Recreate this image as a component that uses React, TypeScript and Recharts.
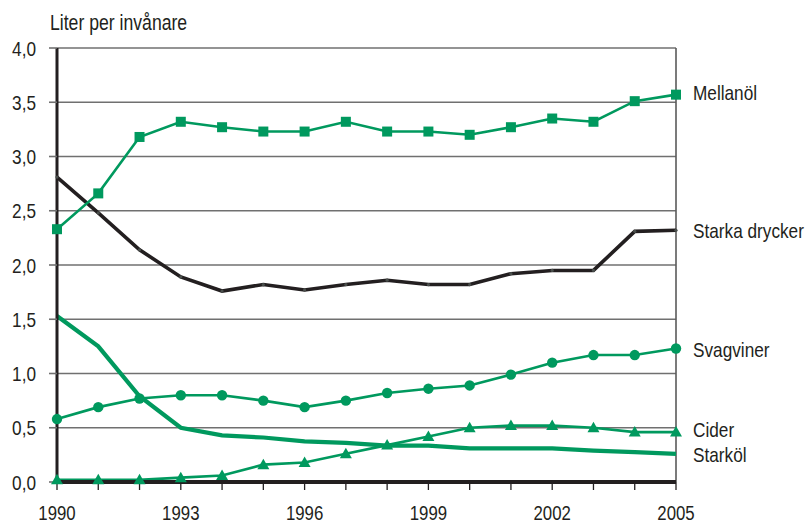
import React from 'react';
import { LineChart, Line, XAxis, YAxis, CartesianGrid, ReferenceLine, Customized } from 'recharts';

const years = [1990, 1991, 1992, 1993, 1994, 1995, 1996, 1997, 1998, 1999, 2000, 2001, 2002, 2003, 2004, 2005];
const mellanol = [2.33, 2.66, 3.18, 3.32, 3.27, 3.23, 3.23, 3.32, 3.23, 3.23, 3.20, 3.27, 3.35, 3.32, 3.51, 3.57];
const starka = [2.81, 2.48, 2.14, 1.89, 1.76, 1.82, 1.77, 1.82, 1.86, 1.82, 1.82, 1.92, 1.95, 1.95, 2.31, 2.32];
const svagviner = [0.58, 0.69, 0.77, 0.80, 0.80, 0.75, 0.69, 0.75, 0.82, 0.86, 0.89, 0.99, 1.10, 1.17, 1.17, 1.23];
const cider = [0.02, 0.02, 0.02, 0.04, 0.06, 0.16, 0.18, 0.26, 0.34, 0.42, 0.50, 0.52, 0.52, 0.50, 0.46, 0.46];
const starkol = [1.53, 1.25, 0.79, 0.50, 0.43, 0.41, 0.375, 0.36, 0.335, 0.335, 0.31, 0.31, 0.31, 0.29, 0.275, 0.26];
const yTicks = [0, 0.5, 1, 1.5, 2, 2.5, 3, 3.5, 4];
const seriesNames = ['Mellanöl', 'Starka drycker', 'Svagviner', 'Cider', 'Starköl'];
const yTitle = 'Liter per invånare';

const data = years.map((y, i) => ({
  year: y,
  mellanol: mellanol[i],
  starka: starka[i],
  svagviner: svagviner[i],
  cider: cider[i],
  starkol: starkol[i],
}));

const GREEN = '#00995e';
const INK = '#231f20';
const FONT = "'Liberation Sans', Arial, sans-serif";
const SX = 0.82;
const last = years.length - 1;

const NarrowText = ({ x, y, anchor = 'start', size = 21, children }: any) => (
  <text
    transform={`translate(${x},${y}) scale(${SX},1)`}
    x={0}
    y={0}
    textAnchor={anchor}
    fontSize={size}
    fontFamily={FONT}
    fill={INK}
  >
    {children}
  </text>
);

const Square = (props: any) => {
  const { cx, cy, index } = props;
  return <rect key={`sq-${index}`} x={cx - 5} y={cy - 5} width={10} height={10} fill={GREEN} />;
};
const Circle = (props: any) => {
  const { cx, cy, index } = props;
  return <circle key={`ci-${index}`} cx={cx} cy={cy} r={5.2} fill={GREEN} />;
};
const Triangle = (props: any) => {
  const { cx, cy, index } = props;
  return (
    <polygon
      key={`tr-${index}`}
      points={`${cx},${cy - 6} ${cx + 6},${cy + 4.5} ${cx - 6},${cy + 4.5}`}
      fill={GREEN}
    />
  );
};
const SmallDot = (props: any) => {
  const { cx, cy, index } = props;
  return <circle key={`sd-${index}`} cx={cx} cy={cy} r={1.6} fill="#4a4f4c" />;
};

const endLabel = (name: string, dy: number) => (props: any) => {
  const { x, y, index } = props;
  if (index !== last) return <g key={`lb-${name}-${index}`} />;
  return (
    <g key={`lb-${name}-${index}`}>
      <NarrowText x={x + 17} y={y + dy + 7.5}>{name}</NarrowText>
    </g>
  );
};

const XTick = (props: any) => {
  const { x, y, payload } = props;
  const v = payload.value as number;
  if ((v - 1990) % 3 !== 0) return <g />;
  return <NarrowText x={x} y={y + 12} anchor="middle" size={20.5}>{String(v)}</NarrowText>;
};

const YTick = (props: any) => {
  const { x, y, payload } = props;
  const v = payload.value as number;
  return (
    <NarrowText x={x} y={y + 7.5} anchor="end" size={21}>
      {v.toFixed(1).replace('.', ',')}
    </NarrowText>
  );
};

const Title = () => (
  <NarrowText x={50} y={30} size={21.5}>
    {yTitle}
  </NarrowText>
);

export default function App() {
  return (
    <div style={{ position: 'absolute', left: 0, top: 0, width: 810, height: 524, background: '#fff' }}>
      <LineChart
        width={810}
        height={524}
        data={data}
        margin={{ top: 48, right: 134, bottom: 0, left: 0 }}
        style={{ fontFamily: FONT }}
      >
        <CartesianGrid horizontal vertical={false} stroke="#707070" strokeWidth={1.6} />
        <XAxis
          dataKey="year"
          type="number"
          domain={[1990, 2005]}
          ticks={years}
          interval={0}
          height={42}
          tickSize={8}
          tickMargin={18}
          axisLine={{ stroke: INK, strokeWidth: 4 }}
          tickLine={{ stroke: INK, strokeWidth: 1.3 }}
          tick={<XTick />}
        />
        <YAxis
          type="number"
          domain={[0, 4]}
          ticks={yTicks}
          interval={0}
          width={57}
          tickSize={8}
          tickMargin={13}
          axisLine={{ stroke: INK, strokeWidth: 3 }}
          tickLine={{ stroke: '#707070', strokeWidth: 1.6 }}
          tick={<YTick />}
        />
        <ReferenceLine x={2005} stroke="#5a5a5a" strokeWidth={1.6} />
        <Line
          dataKey="starkol"
          stroke={GREEN}
          strokeWidth={4.2}
          dot={false}
          isAnimationActive={false}
          label={endLabel(seriesNames[4], 1)}
        />
        <Line
          dataKey="cider"
          stroke={GREEN}
          strokeWidth={2.6}
          dot={Triangle}
          activeDot={false}
          isAnimationActive={false}
          label={endLabel(seriesNames[3], -3)}
        />
        <Line
          dataKey="svagviner"
          stroke={GREEN}
          strokeWidth={2.6}
          dot={Circle}
          activeDot={false}
          isAnimationActive={false}
          label={endLabel(seriesNames[2], 1)}
        />
        <Line
          dataKey="starka"
          stroke={INK}
          strokeWidth={3.6}
          dot={SmallDot}
          activeDot={false}
          isAnimationActive={false}
          label={endLabel(seriesNames[1], 0)}
        />
        <Line
          dataKey="mellanol"
          stroke={GREEN}
          strokeWidth={2.6}
          dot={Square}
          activeDot={false}
          isAnimationActive={false}
          label={endLabel(seriesNames[0], -2)}
        />
        <Customized component={Title} />
      </LineChart>
    </div>
  );
}
